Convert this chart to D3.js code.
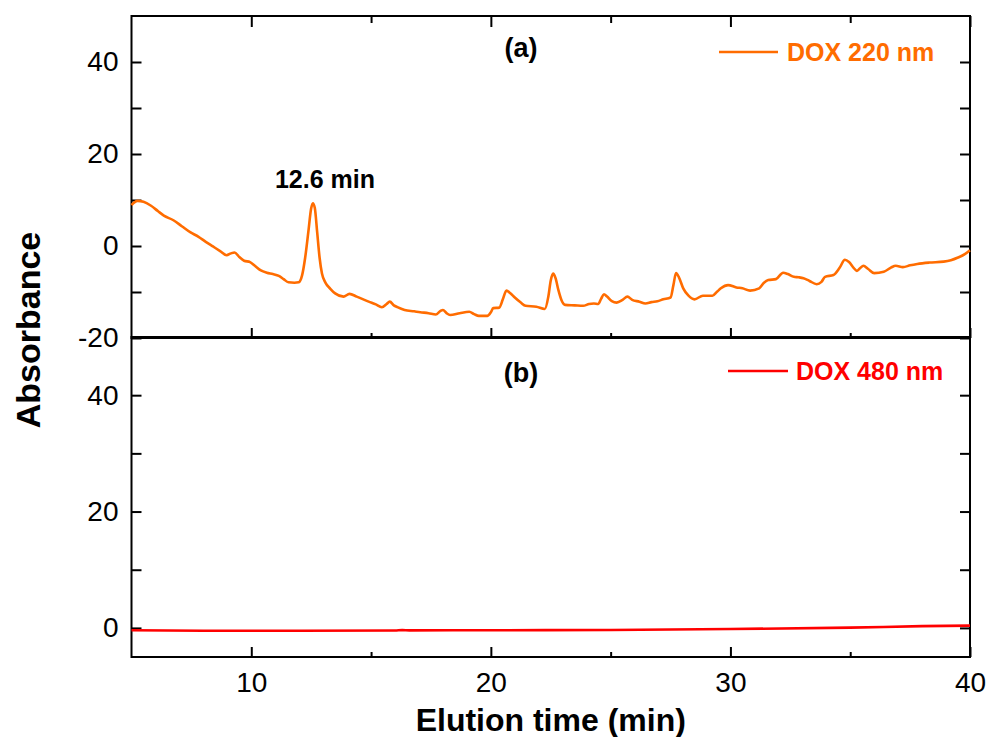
<!DOCTYPE html>
<html>
<head>
<meta charset="utf-8">
<script src="https://cdn.jsdelivr.net/npm/d3@7"></script>
<style>
  body { margin: 0; background: #fff; }
  svg { display: block; font-family: "Liberation Sans", Arial, sans-serif; }
</style>
</head>
<body>
<svg id="chart"></svg>
<script>
// Panel (a): DOX at 220 nm, elution time (min) vs absorbance
const timeA = [5.0, 5.25, 5.5, 5.8, 6.1, 6.35, 6.75, 7.1, 7.45, 7.8, 8.1, 8.4, 8.7, 8.97, 9.15, 9.3, 9.5, 9.7, 9.95,
  10.15, 10.4, 10.65, 10.9, 11.15, 11.35, 11.55, 11.8, 11.98, 12.12, 12.25, 12.38, 12.5, 12.57, 12.65, 12.75, 12.85,
  12.95, 13.1, 13.3, 13.5, 13.85, 14.1, 14.4, 14.9, 15.2, 15.45, 15.65, 15.78, 15.95, 16.1, 16.4, 16.8, 17.05, 17.4,
  17.7, 17.9, 18.0, 18.15, 18.3, 18.7, 19.1, 19.3, 19.5, 19.85, 20.0, 20.1, 20.35, 20.5, 20.65, 20.8, 21.0, 21.25,
  21.45, 21.9, 22.25, 22.4, 22.5, 22.6, 22.7, 22.82, 22.95, 23.1, 23.5, 23.85, 24.1, 24.3, 24.48, 24.6, 24.72, 24.85,
  25.05, 25.25, 25.5, 25.7, 25.9, 26.2, 26.45, 26.7, 26.95, 27.2, 27.5, 27.62, 27.73, 27.85, 28.03, 28.25, 28.5,
  28.85, 29.25, 29.45, 29.6, 29.9, 30.25, 30.5, 30.82, 31.2, 31.4, 31.58, 31.9, 32.2, 32.4, 32.65, 32.85, 33.05,
  33.3, 33.6, 33.8, 33.95, 34.3, 34.55, 34.78, 34.95, 35.15, 35.28, 35.42, 35.55, 35.75, 36.0, 36.4, 36.7, 36.9,
  37.2, 37.5, 37.8, 38.3, 38.9, 39.2, 39.5, 39.8, 40.0];
const absA = [8.9, 9.8, 9.6, 8.8, 7.6, 6.6, 5.6, 4.3, 3.0, 2.0, 0.9, -0.1, -1.1, -2.0, -1.6, -1.4, -2.4, -3.2, -3.5,
  -4.3, -5.3, -5.8, -6.1, -6.5, -7.2, -7.9, -8.0, -7.9, -6.4, -2.5, 3.0, 8.2, 9.3, 8.3, 3.0, -2.5,
  -6.0, -8.0, -9.3, -10.3, -11.0, -10.4, -11.0, -12.1, -12.7, -13.3, -12.6, -12.1, -12.9, -13.3, -13.9, -14.2, -14.4, -14.6,
  -14.9, -14.1, -13.9, -14.6, -15.0, -14.6, -14.3, -14.8, -15.2, -15.2, -14.4, -13.5, -13.4, -11.6, -9.7, -10.2, -11.2, -12.3,
  -13.0, -13.2, -13.7, -11.0, -7.5, -6.0, -7.0, -9.6, -11.8, -12.8, -12.9, -13.0, -12.6, -12.5, -12.6, -11.5, -10.5, -11.0,
  -12.0, -12.3, -11.7, -11.0, -11.7, -12.1, -12.5, -12.2, -12.0, -11.6, -11.2, -8.5, -5.9, -6.8, -9.2, -10.8, -11.6,
  -10.8, -10.8, -9.9, -9.2, -8.5, -9.0, -9.2, -9.7, -9.2, -8.0, -7.4, -7.2, -5.8, -6.1, -6.7, -6.8, -7.0,
  -7.6, -8.3, -7.8, -6.7, -6.3, -4.8, -3.0, -3.5, -4.8, -5.4, -4.8, -4.3, -5.0, -5.9, -5.6, -4.7, -4.3,
  -4.6, -4.2, -3.9, -3.6, -3.4, -3.1, -2.5, -1.7, -0.9];

// Panel (b): DOX at 480 nm
const timeB = [5, 8, 12, 16, 16.3, 16.6, 20, 25, 30, 35, 38, 40];
const absB = [-0.4, -0.5, -0.5, -0.45, -0.38, -0.42, -0.4, -0.35, -0.2, 0.05, 0.3, 0.4];

const xMajor = [10, 20, 30, 40];
const xMinor = [15, 25, 35];
const yMajorA = [-20, 0, 20, 40];
const yMinorA = [-10, 10, 30];
const yMajorB = [0, 20, 40];
const yMinorB = [10, 30];

const W = 989, H = 737;
const left = 131.5, right = 970;
const topA = 16, botA = 338;
const topB = 337, botB = 657;
const orange = '#ff6c00';
const red = '#ff0000';
const fontSans = '"Liberation Sans", Arial, sans-serif';

const svg = d3.select('#chart').attr('width', W).attr('height', H);

const x = d3.scaleLinear().domain([5, 40]).range([left, right]);
const yA = d3.scaleLinear().domain([-20, 50]).range([botA, topA]);
const yB = d3.scaleLinear().domain([-5, 50]).range([botB, topB]);

function styleAxis(g) {
  g.select('.domain').remove();
  g.selectAll('line').attr('stroke', '#000').attr('stroke-width', 2);
  g.selectAll('text').attr('font-size', 28).attr('font-family', fontSans).attr('fill', '#000');
}

function panel(y, top, bot, yMajor, yMinor, topTicks, xLabels) {
  // y ticks left (inward) with labels
  svg.append('g').attr('transform', `translate(${left},0)`)
    .call(d3.axisLeft(y).tickValues(yMajor.concat(yMinor)).tickSize(-10).tickPadding(13)
      .tickFormat(d => yMajor.includes(d) ? d : ''))
    .call(styleAxis);
  // y ticks right (inward)
  svg.append('g').attr('transform', `translate(${right},0)`)
    .call(d3.axisRight(y).tickValues(yMajor.concat(yMinor)).tickSize(-10).tickFormat(''))
    .call(styleAxis);
  // x ticks bottom (inward)
  const xb = svg.append('g').attr('transform', `translate(0,${bot})`)
    .call(d3.axisBottom(x).tickValues(xMajor).tickSize(-10).tickPadding(15)
      .tickFormat(xLabels ? d => d : ''))
    .call(styleAxis);
  xb.selectAll('text').attr('dy', '0.71em');
  svg.append('g').attr('transform', `translate(0,${bot})`)
    .call(d3.axisBottom(x).tickValues(xMinor).tickSize(-5).tickFormat(''))
    .call(styleAxis);
  if (topTicks) {
    svg.append('g').attr('transform', `translate(0,${top})`)
      .call(d3.axisTop(x).tickValues(xMajor).tickSize(-11).tickFormat(''))
      .call(styleAxis);
    svg.append('g').attr('transform', `translate(0,${top})`)
      .call(d3.axisTop(x).tickValues(xMinor).tickSize(-7).tickFormat(''))
      .call(styleAxis);
  }
  // frame
  svg.append('rect')
    .attr('x', left).attr('y', top)
    .attr('width', right - left).attr('height', bot - top)
    .attr('fill', 'none').attr('stroke', '#000').attr('stroke-width', 2);
}

panel(yA, topA, botA, yMajorA, yMinorA, true, false);
panel(yB, topB, botB, yMajorB, yMinorB, false, true);

// lines
const lineA = d3.line().x(d => x(d[0])).y(d => yA(d[1])).curve(d3.curveMonotoneX);
const lineB = d3.line().x(d => x(d[0])).y(d => yB(d[1])).curve(d3.curveMonotoneX);

svg.append('path')
  .datum(d3.zip(timeA, absA))
  .attr('d', lineA)
  .attr('fill', 'none').attr('stroke', orange).attr('stroke-width', 2.6)
  .attr('stroke-linejoin', 'round');

svg.append('path')
  .datum(d3.zip(timeB, absB))
  .attr('d', lineB)
  .attr('fill', 'none').attr('stroke', red).attr('stroke-width', 2.6)
  .attr('stroke-linejoin', 'round');

// annotations
svg.append('text').attr('x', 325).attr('y', 188).attr('text-anchor', 'middle')
  .attr('font-size', 25).attr('font-weight', 'bold').text('12.6 min');
svg.append('text').attr('x', 521).attr('y', 57).attr('text-anchor', 'middle')
  .attr('font-size', 27).attr('font-weight', 'bold').text('(a)');
svg.append('text').attr('x', 521).attr('y', 382).attr('text-anchor', 'middle')
  .attr('font-size', 27).attr('font-weight', 'bold').text('(b)');

// legends
svg.append('line').attr('x1', 719).attr('x2', 778).attr('y1', 52).attr('y2', 52)
  .attr('stroke', orange).attr('stroke-width', 2.6);
svg.append('text').attr('x', 787).attr('y', 61).attr('font-size', 25).attr('font-weight', 'bold')
  .attr('fill', orange).text('DOX 220 nm');
svg.append('line').attr('x1', 728).attr('x2', 788).attr('y1', 371).attr('y2', 371)
  .attr('stroke', red).attr('stroke-width', 2.6);
svg.append('text').attr('x', 796).attr('y', 380).attr('font-size', 25).attr('font-weight', 'bold')
  .attr('fill', red).text('DOX 480 nm');

// axis titles
svg.append('text').attr('x', (left + right) / 2).attr('y', 731).attr('text-anchor', 'middle')
  .attr('font-size', 32).attr('font-weight', 'bold').text('Elution time (min)');
svg.append('text').attr('transform', 'translate(40,330) rotate(-90)').attr('text-anchor', 'middle')
  .attr('font-size', 34).attr('font-weight', 'bold').text('Absorbance');
</script>
</body>
</html>
